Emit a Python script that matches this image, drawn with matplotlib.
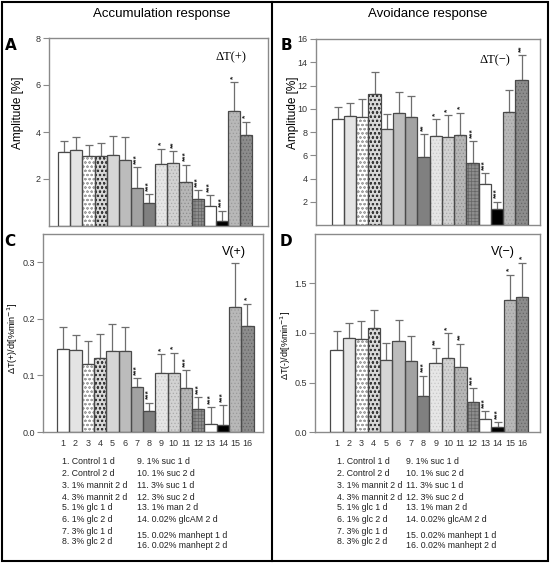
import matplotlib.pyplot as plt
from matplotlib.lines import Line2D
from matplotlib.patches import Rectangle
import numpy as np

# treatment index 1..16
GROUPS = np.arange(1, 17)

# A: accumulation amplitude [%]
ACC_AMP = [3.13, 3.22, 2.99, 3.00, 3.03, 2.82, 1.60, 0.98, 2.64, 2.67, 1.86, 1.13, 0.87, 0.20, 4.89, 3.86]
ACC_AMP_ERR = [0.47, 0.57, 0.46, 0.52, 0.78, 0.98, 0.90, 0.37, 0.65, 0.52, 0.74, 0.40, 0.44, 0.45, 1.22, 0.58]
ACC_AMP_SIG = ['', '', '', '', '', '', '***', '***', '*', '**', '***', '***', '***', '***', '*', '*']

# B: avoidance amplitude [%]
AVO_AMP = [9.15, 9.38, 9.29, 11.26, 8.25, 9.61, 9.29, 5.83, 7.65, 7.53, 7.71, 5.31, 3.52, 1.39, 9.75, 12.5]
AVO_AMP_ERR = [0.98, 1.15, 1.56, 1.93, 1.33, 1.82, 1.79, 1.96, 1.44, 1.91, 1.96, 1.88, 0.95, 0.60, 1.90, 2.10]
AVO_AMP_SIG = ['', '', '', '', '', '', '', '**', '*', '*', '*', '***', '***', '***', '', '**']

# C: accumulation velocity
ACC_VEL = [0.147, 0.145, 0.120, 0.130, 0.144, 0.143, 0.080, 0.038, 0.105, 0.105, 0.077, 0.040, 0.014, 0.013, 0.221, 0.187]
ACC_VEL_ERR = [0.038, 0.026, 0.040, 0.043, 0.047, 0.043, 0.015, 0.014, 0.032, 0.035, 0.032, 0.021, 0.030, 0.034, 0.078, 0.040]
ACC_VEL_SIG = ['', '', '', '', '', '', '***', '***', '*', '*', '***', '***', '***', '***', '', '*']

# D: avoidance velocity
AVO_VEL = [0.83, 0.95, 0.94, 1.05, 0.73, 0.92, 0.72, 0.36, 0.70, 0.75, 0.66, 0.30, 0.13, 0.05, 1.33, 1.36]
AVO_VEL_ERR = [0.19, 0.15, 0.18, 0.18, 0.17, 0.21, 0.25, 0.21, 0.145, 0.25, 0.23, 0.14, 0.08, 0.05, 0.26, 0.35]
AVO_VEL_SIG = ['', '', '', '', '', '', '', '***', '**', '*', '**', '***', '***', '***', '*', '*']

LEGEND = ['1. Control 1 d', '2. Control 2 d', '3. 1% mannit 2 d', '4. 3% mannit 2 d',
          '5. 1% glc 1 d', '6. 1% glc 2 d', '7. 3% glc 1 d', '8. 3% glc 2 d',
          '9. 1% suc 1 d', '10. 1% suc 2 d', '11. 3% suc 1 d', '12. 3% suc 2 d',
          '13. 1% man 2 d', '14. 0.02% glcAM 2 d', '15. 0.02% manhept 1 d', '16. 0.02% manhept 2 d']

# bar looks: face colour, hatch, hatch colour
FACE = ['white', '#e4e4e4', 'white', '#d8d8d8', '#d6d6d6', '#bcbcbc', '#a2a2a2', '#808080',
        '#e6e6e6', '#d2d2d2', '#b6b6b6', '#8e8e8e', 'white', 'black', '#b8b8b8', '#8c8c8c']
HATCH = [None, None, 'oooo', 'oooo', None, None, None, None,
         '.....', '.....', '.....', '+++++', None, None, '.....', '.....']
HCOL = ['none', 'none', '#a0a0a0', '#3a3a3a', 'none', 'none', 'none', 'none',
        '#c8c8c8', '#aaaaaa', '#8e8e8e', '#666666', 'none', 'none', '#9a9a9a', '#666666']

plt.rcParams['font.family'] = ['Liberation Sans', 'DejaVu Sans']
plt.rcParams['hatch.linewidth'] = 0.5

W, H = 550, 563
fig = plt.figure(figsize=(W / 100, H / 100), dpi=100)


def add_ax(l, t, r, b):
    return fig.add_axes([l / W, 1 - b / H, (r - l) / W, (b - t) / H])


def draw_panel(ax, vals, errs, sig, xlim, ylim, yticks):
    for i in range(len(GROUPS)):
        ax.bar(GROUPS[i], vals[i], width=1, color=FACE[i], hatch=HATCH[i],
               edgecolor=HCOL[i], linewidth=0, zorder=2)
    ax.bar(GROUPS, vals, width=1, fill=False, edgecolor='#4a4a4a', linewidth=0.9, zorder=3)
    ax.errorbar(GROUPS, vals, yerr=[np.zeros(len(vals)), errs], fmt='none',
                ecolor='#6e6e6e', elinewidth=0.9, capsize=3.2, capthick=0.9, zorder=1)
    for x, v, e, s in zip(GROUPS, vals, errs, sig):
        if s:
            ax.annotate(s, (x, v + e), xytext=(0, 2.5), textcoords='offset points',
                        rotation=90, ha='center', va='bottom', fontsize=6,
                        fontweight='bold', color='#222222')
    ax.set_xlim(*xlim)
    ax.set_ylim(*ylim)
    ax.set_yticks(yticks)
    for sp in ax.spines.values():
        sp.set_color('#8a8a8a')
        sp.set_linewidth(1.0)
    ax.tick_params(axis='y', length=4, width=0.8, color='#8a8a8a', labelsize=6.5,
                   labelcolor='#333333', pad=2)
    ax.tick_params(axis='x', length=0, labelsize=6.5, labelcolor='#333333', pad=5)


axA = add_ax(49, 38, 268, 226)
draw_panel(axA, ACC_AMP, ACC_AMP_ERR, ACC_AMP_SIG, (-0.26, 17.8), (0, 8), [2, 4, 6, 8])
axA.set_xticks([])

axB = add_ax(316, 39, 540, 225)
draw_panel(axB, AVO_AMP, AVO_AMP_ERR, AVO_AMP_SIG, (-0.78, 17.5), (0, 16), range(2, 17, 2))
axB.set_xticks([])

axC = add_ax(43, 234, 263, 432)
draw_panel(axC, ACC_VEL, ACC_VEL_ERR, ACC_VEL_SIG, (-0.65, 17.27), (0, 0.35), [0.0, 0.1, 0.2, 0.3])
axC.set_yticklabels(['0.0', '0.1', '0.2', '0.3'])
axC.set_xticks(GROUPS)

axD = add_ax(315, 234, 540, 432)
draw_panel(axD, AVO_VEL, AVO_VEL_ERR, AVO_VEL_SIG, (-0.75, 17.43), (0, 2.0), [0.0, 0.5, 1.0, 1.5])
axD.set_yticklabels(['0.0', '0.5', '1.0', '1.5'])
axD.set_xticks(GROUPS)

# panel annotations
serif = ['Liberation Serif', 'DejaVu Serif']
axA.text(0.83, 0.90, '\u0394T(+)', transform=axA.transAxes, ha='center', va='center',
         fontsize=9, family=serif)
axB.text(0.80, 0.887, '\u0394T(\u2212)', transform=axB.transAxes, ha='center', va='center',
         fontsize=9, family=serif)
axC.text(0.87, 0.91, 'V(+)', transform=axC.transAxes, ha='center', va='center', fontsize=9)
axD.text(0.835, 0.91, 'V(\u2212)', transform=axD.transAxes, ha='center', va='center', fontsize=9)


def ftext(x, y, s, **kw):
    fig.text(x / W, 1 - y / H, s, **kw)


ftext(162, 14, 'Accumulation response', ha='center', va='center', fontsize=9.5)
ftext(428, 14, 'Avoidance response', ha='center', va='center', fontsize=9.5)

letter = dict(ha='center', va='center', fontsize=11, fontweight='bold',
              family=['Liberation Sans Narrow', 'DejaVu Sans'])
ftext(11, 45, 'A', **letter)
ftext(286, 45, 'B', **letter)
ftext(10, 241, 'C', **letter)
ftext(286, 241, 'D', **letter)

ftext(18, 113, 'Amplitude [%]', rotation=90, ha='center', va='center', fontsize=8.5)
ftext(293, 113, 'Amplitude [%]', rotation=90, ha='center', va='center', fontsize=8.5)
ftext(13, 338, '\u0394T(+)/dt[%min$^{-1}$]', rotation=90, ha='center', va='center', fontsize=6.5)
ftext(286, 345, '\u0394T(-)/dt[%min$^{-1}$]', rotation=90, ha='center', va='center', fontsize=6.5)

# treatment key, twice
ROWS = [462, 473, 486, 497, 508, 519, 531, 542]
for x0, x1 in [(62, 137), (337, 406)]:
    for k in range(8):
        ftext(x0, ROWS[k], LEGEND[k], ha='left', va='center', fontsize=6.3, color='#222222')
        ftext(x1, ROWS[k] + (4 if k >= 6 else 0), LEGEND[k + 8], ha='left', va='center',
              fontsize=6.3, color='#222222')

# outer frame and divider
fig.add_artist(Rectangle((2 / W, 2 / H), 546 / W, 559 / H, fill=False, lw=1.5,
                         ec='black', transform=fig.transFigure))
fig.add_artist(Line2D([272 / W, 272 / W], [2 / H, 561 / H], lw=1.5, color='black',
                      transform=fig.transFigure))

fig.savefig('out.png', dpi=100)
